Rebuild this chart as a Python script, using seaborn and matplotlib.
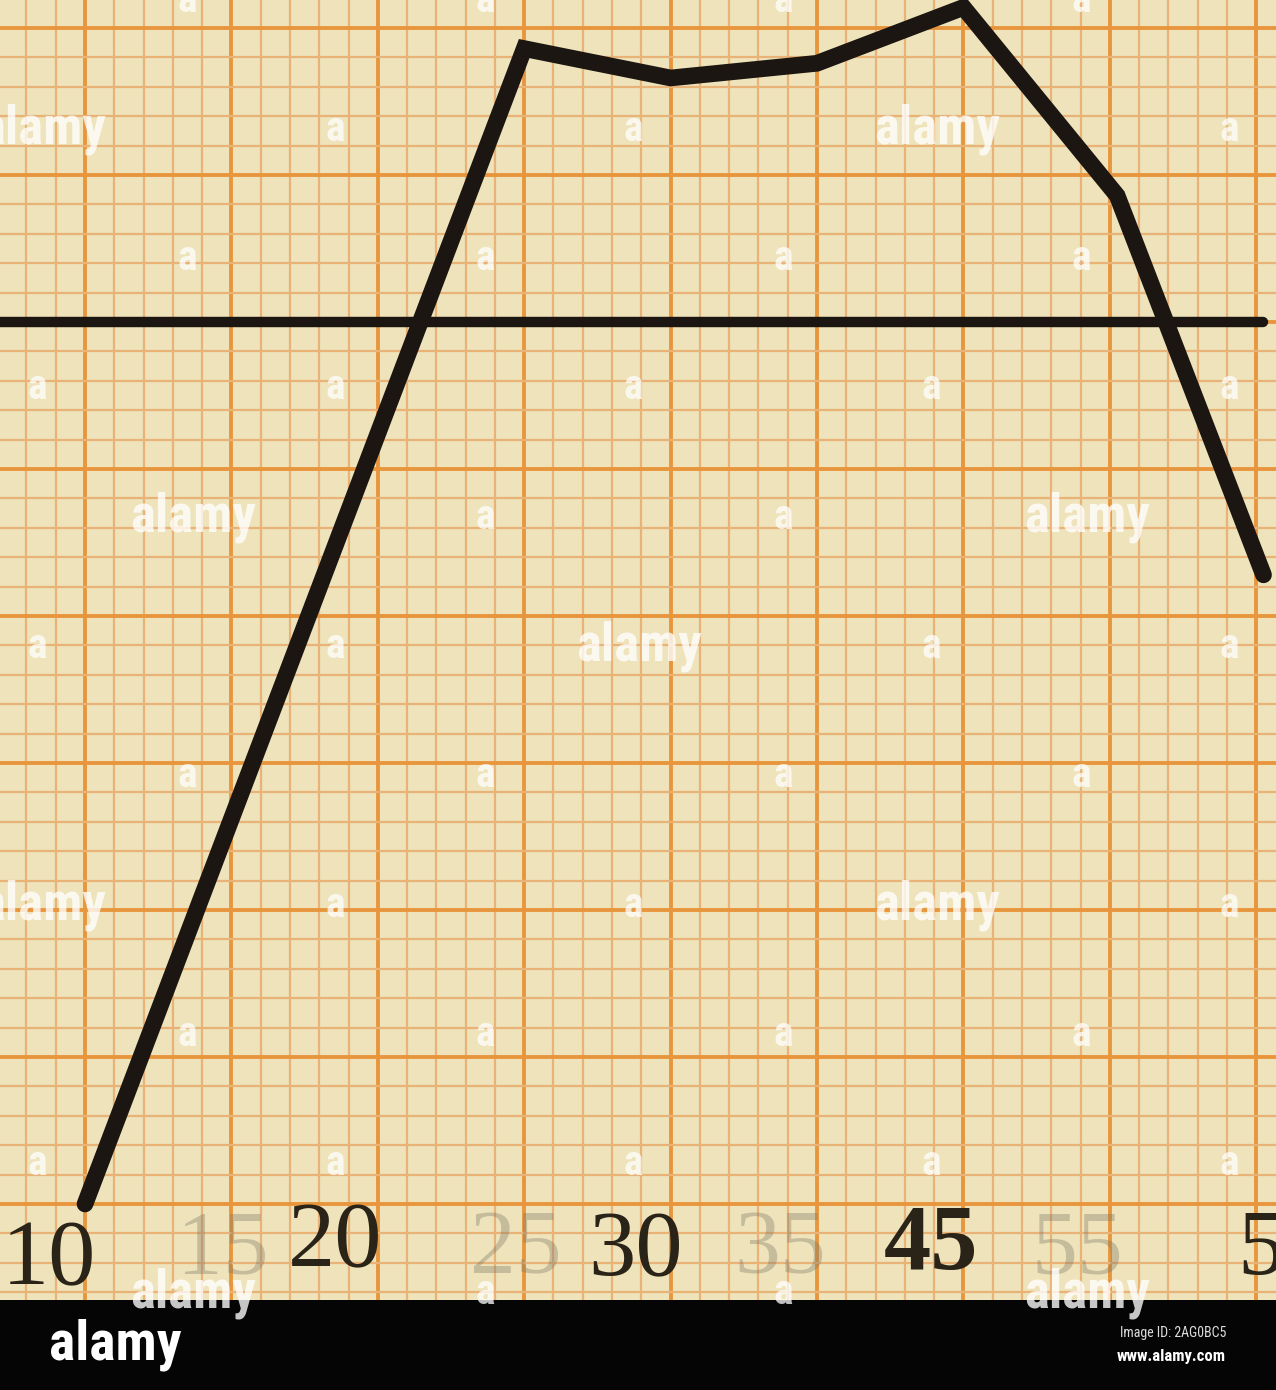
import numpy as np
import pandas as pd
import matplotlib
matplotlib.use("Agg")
import matplotlib.pyplot as plt
import seaborn as sns

# Datos (x en divisiones mayores, y en divisiones menores sobre la línea base)
x_vals = [0.0, 3.0, 4.0, 5.0, 6.0, 7.05, 8.05]
y_vals = [-30.0, 9.3, 8.3, 8.8, 10.7, 4.3, -8.6]

# Rótulos mecanografiados del eje inferior
labels_dark = ["10", "20", "30", "45", "5"]
labels_dark_x = [-0.57, 1.71, 3.76, 5.78, 7.87]
labels_dark_y = [-31.97, -31.36, -31.67, -31.43, -31.63]
labels_faint = ["15", "25", "35", "55"]
labels_faint_x = [0.94, 2.94, 4.75, 6.78]

W, H = 1276, 1390
PAPER_H = 1300
PX_X = 146.4   # px por división mayor horizontal
PX_Y = 29.4    # px por división menor vertical
X0, Y0 = 85, 322

paper = "#EEE3BA"
major_c = "#E8963E"
minor_c = "#E9B277"
ink = "#1B1611"
narrow = ["Roboto Condensed", "Roboto", "DejaVu Sans"]

sns.set_theme(style="white")
plt.rcParams["font.family"] = ["DejaVu Sans"]

fig = plt.figure(figsize=(W / 100, H / 100), dpi=100)
fig.patch.set_facecolor("#050505")
ax = fig.add_axes([0, (H - PAPER_H) / H, 1, PAPER_H / H])
ax.set_facecolor(paper)

# Línea base y curva
ax.axhline(0, xmin=0, xmax=0.99, color=ink, linewidth=7.5, zorder=4)
df = pd.DataFrame({"x": x_vals, "y": y_vals})
sns.lineplot(data=df, x="x", y="y", ax=ax, color=ink, linewidth=12, sort=False,
             solid_joinstyle="miter", solid_capstyle="round", zorder=5)
ax.set_xlabel("")
ax.set_ylabel("")

# Papel milimetrado
ax.set_xticks(np.arange(-1, 9, 1.0))
ax.set_xticks(np.round(np.arange(-1, 9, 0.2), 2), minor=True)
ax.set_yticks(np.arange(-35, 15, 5))
ax.set_yticks(np.arange(-35, 15, 1), minor=True)
ax.set_xlim(-X0 / PX_X, (W - X0) / PX_X)
ax.set_ylim((Y0 - PAPER_H) / PX_Y, Y0 / PX_Y)
ax.grid(which="minor", color=minor_c, linewidth=1.6)
ax.grid(which="major", color=major_c, linewidth=2.8)
ax.set_axisbelow(True)
ax.tick_params(which="both", length=0, labelbottom=False, labelleft=False)
for s in ax.spines.values():
    s.set_visible(False)

# Rótulos
for t, x in zip(labels_faint, labels_faint_x):
    ax.text(x, -31.6, t, ha="center", va="center", fontsize=66, family="Liberation Serif",
            color="#7a7466", alpha=0.35, zorder=3)
for t, x, y in zip(labels_dark, labels_dark_x, labels_dark_y):
    ha = "left" if t in ("10", "5") else "center"
    ax.text(x, y, t, ha=ha, va="center", fontsize=68, family="Liberation Serif",
            color="#2a2418", fontweight="bold" if t == "45" else "normal", zorder=3)

# Marca de agua
def fpos(px, py):
    return px / W, 1 - py / H

big = {(1, 0), (1, 3), (4, 0), (4, 3), (5, 2), (7, 0), (7, 3), (10, 0), (10, 3)}
for r in range(11):
    y = 129.3 * r
    x0 = 187 if r % 2 == 0 else 37
    for k in range(5):
        x = x0 + 298 * k
        if x > W + 20:
            continue
        if (r, k) in big:
            fig.text(*fpos(x + 6, y), "alamy", ha="center", va="center", fontsize=38,
                     fontweight="bold", family=narrow, color="white", alpha=0.78, zorder=10)
        else:
            fig.text(*fpos(x, y), "a", ha="center", va="center", fontsize=30,
                     fontweight="bold", family=narrow, color="white", alpha=0.75, zorder=10)

# Franja inferior
fig.text(*fpos(49, 1345), "alamy", ha="left", va="center", fontsize=40, fontweight="bold",
         family=narrow, color="white")
fig.text(*fpos(1226, 1333), "Image ID: 2AG0BC5", ha="right", va="center", fontsize=10,
         family=narrow, color="#dddddd")
fig.text(*fpos(1226, 1356), "www.alamy.com", ha="right", va="center", fontsize=12,
         fontweight="bold", family=narrow, color="white")

fig.savefig("out.png", dpi=100, facecolor=fig.get_facecolor())
